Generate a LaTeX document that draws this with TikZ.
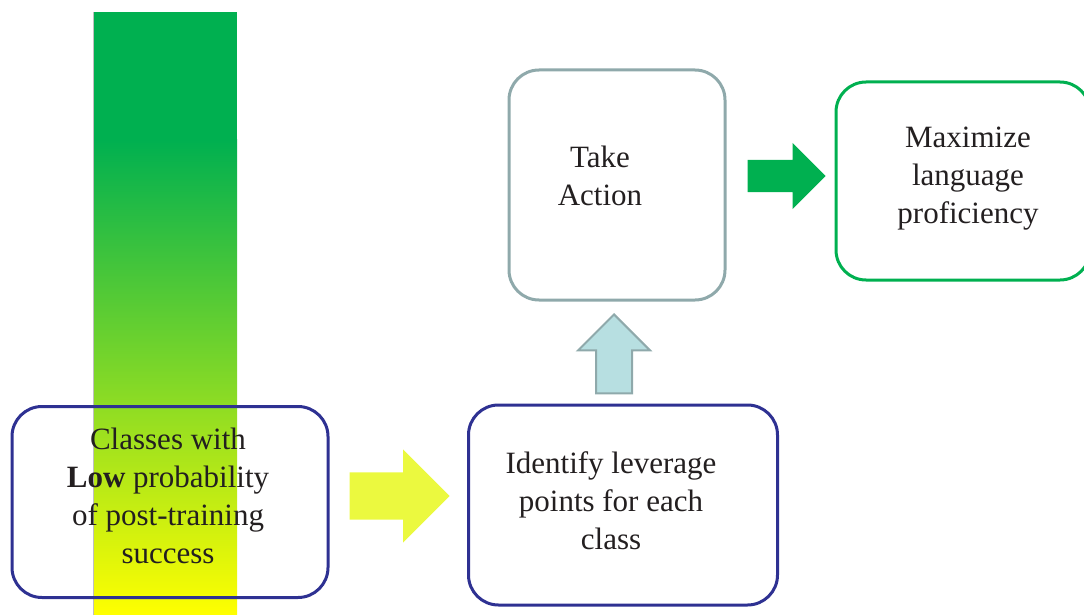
\documentclass[tikz,border=0pt]{standalone}
\usepackage{fontspec}
\setmainfont{Liberation Serif}
\usetikzlibrary{shapes.arrows}
\definecolor{barblue}{HTML}{2E3192}
\definecolor{greygreen}{HTML}{8FA9AB}
\definecolor{leafgreen}{HTML}{00B050}
\definecolor{lemon}{HTML}{EBF93F}
\definecolor{paleblue}{HTML}{B7DFE1}
\definecolor{inkgrey}{HTML}{231F20}
\begin{document}
\begin{tikzpicture}[x=1pt,y=-1pt,
  stepbox/.style={draw, line width=3pt, rounded corners=30pt, inner sep=0pt},
  steptext/.style={align=center, text=inkgrey, font=\fontsize{31}{38}\selectfont, inner sep=0pt},
  blockarrow/.style={single arrow, anchor=tip, inner xsep=0pt, single arrow tip angle=90}]
\useasboundingbox (0,0) rectangle (1084,615);
\fill[leafgreen] (93,12) rectangle (237,140);
\shade[top color=leafgreen, bottom color=yellow] (93,140) rectangle (237,615);
\draw[black!25, line width=1pt] (93,12) -- (93,615);
\node[stepbox, draw=barblue, minimum width=316pt, minimum height=191pt] (low) at (170,502) {};
\node[stepbox, draw=barblue, minimum width=309pt, minimum height=200pt] (lever) at (623,505) {};
\node[stepbox, draw=greygreen, minimum width=216pt, minimum height=230pt] (action) at (617,185) {};
\node[stepbox, draw=leafgreen, minimum width=254pt, minimum height=198pt] (maxim) at (963,181) {};
\node[steptext] (lowtext) at ([shift={(-2,-6)}]low.center)
  {Classes with\\\textbf{Low} probability\\of post-training\\success};
\node[steptext] (levertext) at ([shift={(-12,-4)}]lever.center)
  {Identify leverage\\points for each\\class};
\node[steptext] (actiontext) at ([shift={(-17,-9)}]action.center) {Take\\Action};
\node[steptext] (maximtext) at ([shift={(5,-2)}]maxim.center)
  {Maximize\\language\\proficiency};
\node[blockarrow, fill=lemon, minimum height=100pt, inner ysep=23.5pt,
  single arrow head extend=23pt] (yelarr) at (450,496) {};
\node[blockarrow, fill=paleblue, draw=greygreen, line width=2pt, rotate=90,
  minimum height=79pt, inner ysep=17pt, single arrow head extend=18pt] (uparr) at (614,313) {};
\node[blockarrow, fill=leafgreen, minimum height=78pt, inner ysep=16pt,
  single arrow head extend=17pt] (grnarr) at (826,176) {};
\end{tikzpicture}
\end{document}
